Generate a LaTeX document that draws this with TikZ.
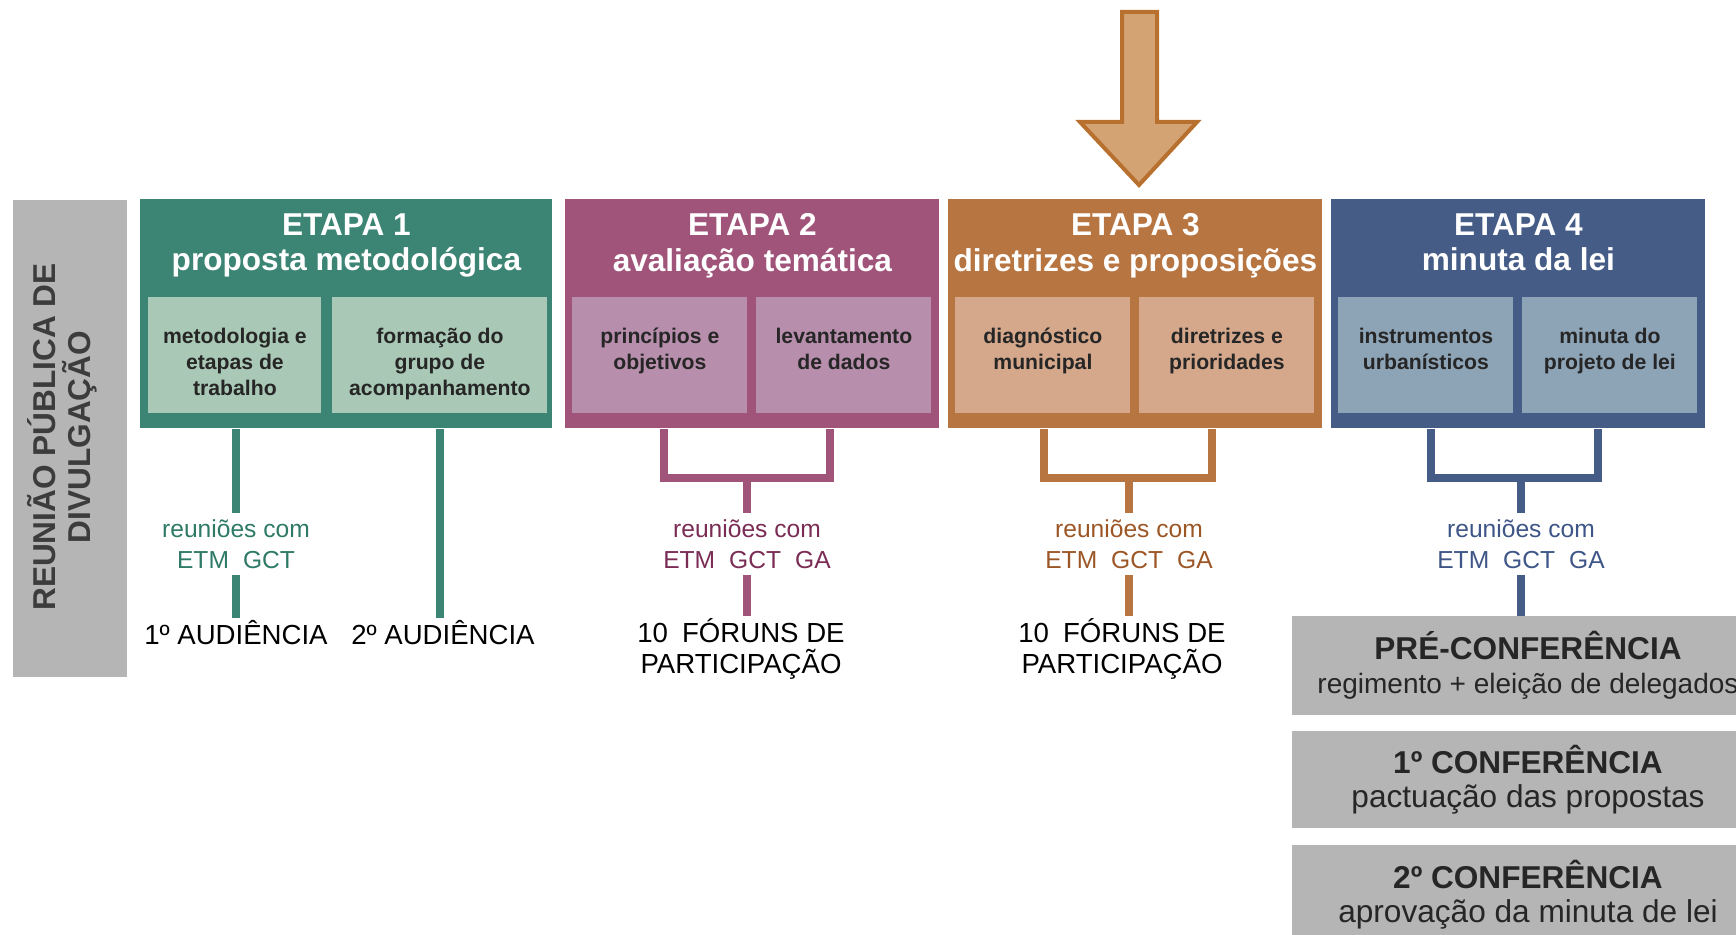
\documentclass[tikz,border=0pt]{standalone}
\usepackage{fontspec}
\setmainfont{Liberation Sans}

\definecolor{etapaA}{HTML}{3C8473}
\definecolor{etapaAl}{HTML}{A9C9B6}
\definecolor{etapaB}{HTML}{A0547A}
\definecolor{etapaBl}{HTML}{B88EAD}
\definecolor{etapaC}{HTML}{B77542}
\definecolor{etapaCl}{HTML}{D5A88C}
\definecolor{etapaD}{HTML}{455C87}
\definecolor{etapaDl}{HTML}{8DA3B6}
\definecolor{cinza}{HTML}{B5B5B5}
\definecolor{seta}{HTML}{D4A373}
\definecolor{setaborda}{HTML}{B8702F}
\definecolor{textoA}{HTML}{2E7A66}
\definecolor{textoB}{HTML}{7A2C54}
\definecolor{textoC}{HTML}{9C5626}
\definecolor{textoD}{HTML}{3E5587}
\definecolor{escuro}{HTML}{262626}

\newcommand{\sepgap}{\hspace{7pt}}

\begin{document}
\begin{tikzpicture}[x=0.5pt, y=-0.5pt,
  etapa/.style={fill=#1, anchor=north west, inner sep=0, minimum height=114.5pt},
  subbox/.style={fill=#1, anchor=north west, inner sep=0, minimum height=58pt},
  titulo/.style={anchor=north, inner sep=0, text=white, align=center, font=\fontsize{15.8}{17.7}\selectfont\bfseries},
  subtexto/.style={anchor=north, inner sep=0, text=escuro, align=center, font=\fontsize{10.6}{13}\selectfont\bfseries},
  reuniao/.style={inner sep=3pt, align=center, text=#1, font=\fontsize{12.3}{15.5}\selectfont},
  evento/.style={inner sep=1pt, align=center, text=black, font=\fontsize{13.8}{15.5}\selectfont},
  conf/.style={fill=cinza, inner sep=0, minimum width=236pt, align=center, text=escuro, font=\fontsize{15.8}{17}\selectfont},
  ligacao/.style={draw=#1, line width=4.3pt, line join=miter},
]
  \useasboundingbox (0,0) rectangle (1736,935);

  \node[fill=cinza, anchor=north west, inner sep=0, minimum width=57pt, minimum height=238.5pt] (lateral) at (13,200) {};
  \node[rotate=90, align=center, text=escuro!90, font=\fontsize{15.8}{17.5}\selectfont\bfseries] (lateraltxt) at (62,437) {REUNIÃO PÚBLICA DE\\DIVULGAÇÃO};

  \filldraw[fill=seta, draw=setaborda, line width=2pt, line join=miter] (1122,12) -- (1157,12) -- (1157,122) -- (1197,122) -- (1139,185) -- (1080,122) -- (1122,122) -- cycle;

  \node[etapa=etapaA, minimum width=206pt] (e1) at (140,199) {};
  \node[etapa=etapaB, minimum width=187pt] (e2) at (565,199) {};
  \node[etapa=etapaC, minimum width=187pt] (e3) at (948,199) {};
  \node[etapa=etapaD, minimum width=187pt] (e4) at (1331,199) {};

  \node[titulo] (t1) at ([yshift=-7.2pt]e1.north) {ETAPA 1\\proposta metodológica};
  \node[titulo] (t2) at ([yshift=-7.2pt]e2.north) {ETAPA 2\\avaliação temática};
  \node[titulo] (t3) at ([yshift=-7.2pt]e3.north) {ETAPA 3\\diretrizes e proposições};
  \node[titulo] (t4) at ([yshift=-7.2pt]e4.north) {ETAPA 4\\minuta da lei};

  \node[subbox=etapaAl, minimum width=86.5pt] (b1a) at (148,297) {};
  \node[subbox=etapaAl, minimum width=107.5pt] (b1b) at (332,297) {};
  \node[subbox=etapaBl, minimum width=87.5pt] (b2a) at (572,297) {};
  \node[subbox=etapaBl, minimum width=87.5pt] (b2b) at (756,297) {};
  \node[subbox=etapaCl, minimum width=87.5pt] (b3a) at (955,297) {};
  \node[subbox=etapaCl, minimum width=87.5pt] (b3b) at (1139,297) {};
  \node[subbox=etapaDl, minimum width=87.5pt] (b4a) at (1338,297) {};
  \node[subbox=etapaDl, minimum width=87.5pt] (b4b) at (1522,297) {};

  \node[subtexto] (s1a) at ([yshift=-15.5pt]b1a.north) {metodologia e\\etapas de\\trabalho};
  \node[subtexto] (s1b) at ([yshift=-15.5pt]b1b.north) {formação do\\grupo de\\acompanhamento};
  \node[subtexto] (s2a) at ([yshift=-15.5pt]b2a.north) {princípios e\\objetivos};
  \node[subtexto] (s2b) at ([yshift=-15.5pt]b2b.north) {levantamento\\de dados};
  \node[subtexto] (s3a) at ([yshift=-15.5pt]b3a.north) {diagnóstico\\municipal};
  \node[subtexto] (s3b) at ([yshift=-15.5pt]b3b.north) {diretrizes e\\prioridades};
  \node[subtexto] (s4a) at ([yshift=-15.5pt]b4a.north) {instrumentos\\urbanísticos};
  \node[subtexto] (s4b) at ([yshift=-15.5pt]b4b.north) {minuta do\\projeto de lei};

  % etapa 1
  \node[reuniao=textoA] (r1) at (236,544) {reuniões com\\ETM\sepgap GCT};
  \node[evento] (a1) at (236,633) {1º AUDIÊNCIA};
  \node[evento] (a2) at (443,633) {2º AUDIÊNCIA};
  \draw[ligacao=etapaA] (e1.south -| r1) -- (r1.north);
  \draw[ligacao=etapaA] (r1.south) -- (a1.north);
  \draw[ligacao=etapaA] (e1.south -| b1b) -- (a2.north -| b1b);

  % etapa 2
  \coordinate (k2a) at (664,478);
  \coordinate (k2b) at (830,478);
  \node[reuniao=textoB] (r2) at (747,544) {reuniões com\\ETM\sepgap GCT\sepgap GA};
  \node[evento] (f2) at (741,649) {10\hspace{7pt}FÓRUNS DE\\PARTICIPAÇÃO};
  \draw[ligacao=etapaB] (e2.south -| k2a) -- (k2a) -- (k2b) -- (e2.south -| k2b);
  \draw[ligacao=etapaB] (k2a -| r2) -- (r2.north);
  \draw[ligacao=etapaB] (r2.south) -- (r2.south |- f2.north);

  % etapa 3
  \coordinate (k3a) at (1044,478);
  \coordinate (k3b) at (1212,478);
  \node[reuniao=textoC] (r3) at (1129,544) {reuniões com\\ETM\sepgap GCT\sepgap GA};
  \node[evento] (f3) at (1122,649) {10\hspace{7pt}FÓRUNS DE\\PARTICIPAÇÃO};
  \draw[ligacao=etapaC] (e3.south -| k3a) -- (k3a) -- (k3b) -- (e3.south -| k3b);
  \draw[ligacao=etapaC] (k3a -| r3) -- (r3.north);
  \draw[ligacao=etapaC] (r3.south) -- (r3.south |- f3.north);

  % etapa 4
  \coordinate (k4a) at (1431,478);
  \coordinate (k4b) at (1598,478);
  \node[reuniao=textoD] (r4) at (1521,544) {reuniões com\\ETM\sepgap GCT\sepgap GA};
  \draw[ligacao=etapaD] (e4.south -| k4a) -- (k4a) -- (k4b) -- (e4.south -| k4b);
  \draw[ligacao=etapaD] (k4a -| r4) -- (r4.north);

  \node[conf, minimum height=49.5pt] (c1) at (1528,665.5) {\textbf{PRÉ-CONFERÊNCIA}\\{\fontsize{14}{17}\selectfont regimento + eleição de delegados}};
  \node[conf, minimum height=48.5pt] (c2) at (1528,779.5) {\textbf{1º CONFERÊNCIA}\\pactuação das propostas};
  \node[conf, minimum height=50pt] (c3) at (1528,895) {\textbf{2º CONFERÊNCIA}\\aprovação da minuta de lei};
  \draw[ligacao=etapaD] (r4.south) -- (r4.south |- c1.north);
\end{tikzpicture}
\end{document}
